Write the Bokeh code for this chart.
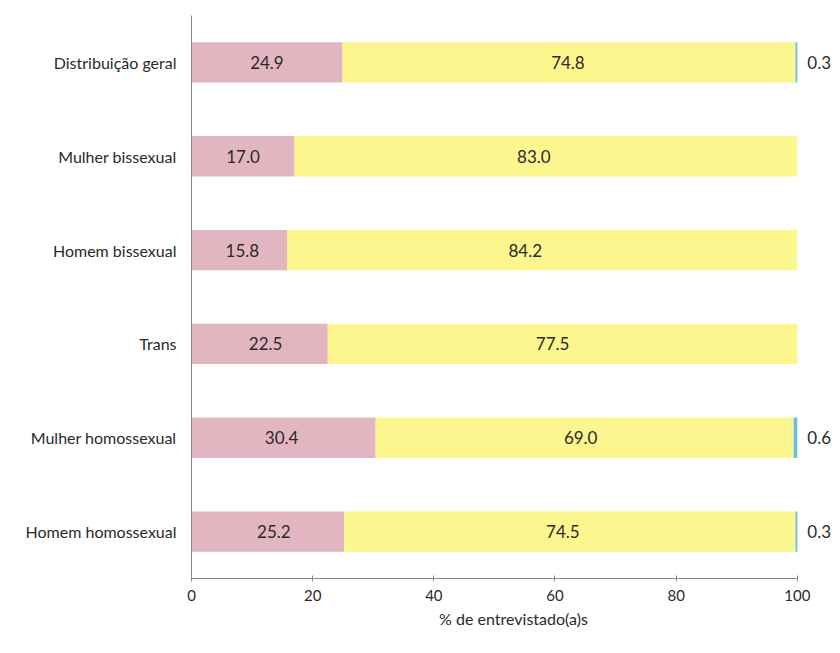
from bokeh.plotting import figure
from bokeh.models import ColumnDataSource, FactorRange, LabelSet, FixedTicker
from bokeh.core.properties import value
from bokeh.embed import file_html
from bokeh.resources import INLINE

# Groups, top to bottom
categories = [
    "Distribuição geral",
    "Mulher bissexual",
    "Homem bissexual",
    "Trans",
    "Mulher homossexual",
    "Homem homossexual",
]
# Share of respondents (%) per segment
sim = [24.9, 17.0, 15.8, 22.5, 30.4, 25.2]
nao = [74.8, 83.0, 84.2, 77.5, 69.0, 74.5]
sem_resposta = [0.3, 0.0, 0.0, 0.0, 0.6, 0.3]
x_ticks = [0, 20, 40, 60, 80, 100]

# Hand-tuned horizontal nudges (px) for the in-bar value labels
sim_nudge = [0, 0, 3, 6, -2, 6]
nao_nudge = [-1, -12, -17, -10, -4, -7]

FONT = "Lato"
PINK = "#e2b6c1"
YELLOW = "#fbf78e"
BLUE = "#6cbde6"
TEXT = "#2a2a2a"

p = figure(
    width=840, height=653,
    y_range=FactorRange(*reversed(categories)),
    x_range=(0, 106.3),
    output_backend="svg", toolbar_location=None,
    min_border_left=191, min_border_right=5,
    min_border_top=15, min_border_bottom=75,
)
p.outline_line_color = None
p.grid.grid_line_color = None
p.background_fill_color = "white"
p.border_fill_color = "white"

a_end = [s + n for s, n in zip(sim, nao)]
c_end = [e + b for e, b in zip(a_end, sem_resposta)]

src = ColumnDataSource(dict(
    cat=categories,
    sim=sim, nao=nao, sr=sem_resposta,
    zero=[0] * len(categories), a_end=a_end, c_end=c_end,
    sim_txt=[f"{v:.1f}" for v in sim],
    nao_txt=[f"{v:.1f}" for v in nao],
    sim_mid=[v / 2 for v in sim],
    nao_mid=[s + n / 2 for s, n in zip(sim, nao)],
    sim_dx=sim_nudge, nao_dx=nao_nudge,
))

p.hbar(y="cat", left="zero", right="sim", height=0.43, source=src,
       fill_color=PINK, line_color=None)
p.hbar(y="cat", left="sim", right="a_end", height=0.43, source=src,
       fill_color=YELLOW, line_color=None)
p.hbar(y="cat", left="a_end", right="c_end", height=0.43, source=src,
       fill_color=BLUE, line_color=None)

label_style = dict(text_baseline="middle", text_font=value(FONT),
                   text_font_size="17px", text_color=TEXT)
p.add_layout(LabelSet(x="sim_mid", y="cat", text="sim_txt", source=src,
                      x_offset="sim_dx", text_align="center", **label_style))
p.add_layout(LabelSet(x="nao_mid", y="cat", text="nao_txt", source=src,
                      x_offset="nao_dx", text_align="center", **label_style))

# Small remainder values shown to the right of the bar
idx = [i for i, v in enumerate(sem_resposta) if v > 0]
src_sr = ColumnDataSource(dict(
    cat=[categories[i] for i in idx],
    x=[c_end[i] for i in idx],
    txt=[f"{sem_resposta[i]:.1f}" for i in idx],
))
p.add_layout(LabelSet(x="x", y="cat", text="txt", source=src_sr,
                      x_offset=10, text_align="left", **label_style))

# X axis
p.xaxis.bounds = (0, 100)
p.xaxis.ticker = FixedTicker(ticks=x_ticks)
p.xaxis.minor_tick_line_color = None
p.xaxis.major_tick_in = 3
p.xaxis.major_tick_out = 3
p.xaxis.axis_line_color = "#8a8a8a"
p.xaxis.major_tick_line_color = "#8a8a8a"
p.xaxis.major_label_text_font = FONT
p.xaxis.major_label_text_font_size = "15px"
p.xaxis.major_label_text_color = TEXT
p.xaxis.major_label_standoff = 8
p.xaxis.axis_label = "% de entrevistado(a)s"
p.xaxis.axis_label_text_font = FONT
p.xaxis.axis_label_text_font_style = "normal"
p.xaxis.axis_label_text_font_size = "16px"
p.xaxis.axis_label_text_color = TEXT
p.xaxis.axis_label_standoff = 5

# Y axis
p.yaxis.axis_line_color = "#8a8a8a"
p.yaxis.major_tick_line_color = None
p.yaxis.minor_tick_line_color = None
p.yaxis.major_label_text_font = FONT
p.yaxis.major_label_text_font_size = "16px"
p.yaxis.major_label_text_color = TEXT
p.yaxis.major_label_standoff = 9

open("out.html", "w").write(file_html(p, INLINE))
